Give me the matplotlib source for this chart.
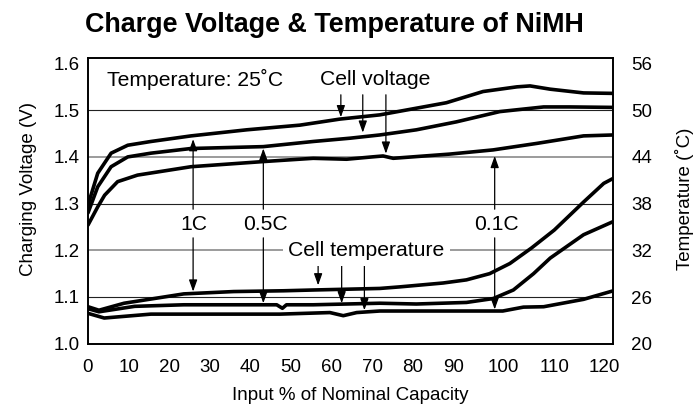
import numpy as np
import matplotlib
matplotlib.use("Agg")
import matplotlib.pyplot as plt

plt.rcParams['font.family'] = ['Liberation Sans', 'DejaVu Sans']

# ---------------- data ----------------
x_ticks = [0, 10, 20, 30, 40, 50, 60, 70, 80, 90, 100, 110, 120]
v_ticks = [1.0, 1.1, 1.2, 1.3, 1.4, 1.5, 1.6]
t_ticks = [20, 26, 32, 38, 44, 50, 56]

v1c_x = [0, 2.4, 5.7, 9.8, 15.5, 25.4, 39.1, 52.2, 62.1, 71.9, 88.3, 95.9, 102.6, 105.2, 109.2, 115.8, 121.7]
v1c_y = [1.297, 1.365, 1.408, 1.425, 1.433, 1.445, 1.458, 1.468, 1.481, 1.490, 1.516, 1.540, 1.550, 1.552, 1.545, 1.537, 1.536]

v05_x = [0, 2.4, 5.7, 9.8, 15.5, 25.4, 43.2, 55.5, 64.5, 71.9, 80.9, 90.6, 99.2, 107.9, 113.0, 121.7]
v05_y = [1.280, 1.336, 1.379, 1.400, 1.408, 1.418, 1.422, 1.433, 1.440, 1.447, 1.458, 1.475, 1.497, 1.507, 1.507, 1.506]

v01_x = [0, 2.4, 4.1, 7.3, 12.2, 25.4, 43.2, 55.5, 63.7, 70.0, 72.7, 75.2, 89.1, 97.9, 106.6, 115.8, 121.7]
v01_y = [1.254, 1.293, 1.318, 1.347, 1.361, 1.379, 1.390, 1.397, 1.395, 1.400, 1.402, 1.397, 1.406, 1.415, 1.429, 1.445, 1.447]

t1c_x = [0, 2.7, 8.9, 23.6, 35.9, 48.2, 55.5, 71.9, 76.8, 87.5, 92.6, 97.2, 101.2, 105.5, 110.0, 115.8, 119.8, 121.7]
t1c_y = [24.75, 24.3, 25.2, 26.4, 26.7, 26.8, 26.9, 27.1, 27.3, 27.8, 28.2, 29.0, 30.3, 32.3, 34.6, 38.2, 40.6, 41.25]

t05_x = [0, 2.7, 11.5, 23.6, 46.5, 47.9, 48.9, 55.5, 71.9, 80.9, 92.6, 97.9, 101.9, 105.9, 109.2, 112.5, 115.8, 121.7]
t05_y = [24.5, 24.1, 24.8, 25.0, 25.0, 24.55, 25.0, 25.0, 25.2, 25.1, 25.3, 25.8, 26.9, 29.0, 31.0, 32.5, 34.0, 35.7]

t01_x = [0, 4.0, 15.5, 47.3, 59.6, 62.9, 66.2, 71.9, 99.8, 103.9, 107.9, 115.8, 121.7]
t01_y = [23.9, 23.3, 23.8, 23.8, 24.0, 23.6, 24.0, 24.2, 24.2, 24.7, 24.75, 25.7, 26.8]

# ---------------- piecewise x scale (as drawn in the original) ----------------
K = 1.244
def fwd(x):
    x = np.asarray(x, dtype=float)
    return np.where(x <= 90, x, 90 + (x - 90) * K)
def inv(y):
    y = np.asarray(y, dtype=float)
    return np.where(y <= 90, y, 90 + (y - 90) / K)

fig = plt.figure(figsize=(6.95, 4.16), dpi=100)
ax = fig.add_axes([0.1266, 0.1738, 0.7559, 0.6868])
ax.set_xscale('function', functions=(fwd, inv))
ax.set_xlim(0, 121.7)
ax.set_ylim(1.0, 1.6118)

ax2 = ax.twinx()
ax2.set_ylim(20, 56.71)

# grid lines
for v in v_ticks[1:-1]:
    gray = abs(v - 1.4) < 1e-6 or abs(v - 1.2) < 1e-6
    ax.axhline(v, color='#8a8a8a' if gray else '#222222', lw=1.2 if gray else 0.8, zorder=1)

lw = 2.6
for xs, ys in [(v1c_x, v1c_y), (v05_x, v05_y), (v01_x, v01_y)]:
    ax.plot(xs, ys, color='black', lw=lw, zorder=3, solid_capstyle='round')
for xs, ys in [(t1c_x, t1c_y), (t05_x, t05_y), (t01_x, t01_y)]:
    ax2.plot(xs, ys, color='black', lw=lw, zorder=3, solid_capstyle='round')

ax.set_xticks(x_ticks)
ax.set_xticklabels([str(t) for t in x_ticks])
ax.set_yticks(v_ticks)
ax.set_yticklabels([f"{t:.1f}" for t in v_ticks])
ax2.set_yticks(t_ticks)
ax2.set_yticklabels([str(t) for t in t_ticks])

fs = 13.5
ax.tick_params(axis='x', length=0, pad=11, labelsize=fs)
ax.tick_params(axis='y', length=0, pad=6, labelsize=fs)
ax2.tick_params(axis='y', length=0, pad=13, labelsize=fs)

for a in (ax, ax2):
    for s in a.spines.values():
        s.set_linewidth(1.2)
        s.set_color('black')

ax.set_ylabel('Charging Voltage (V)', fontsize=fs)
ax.yaxis.set_label_coords(-0.097, 0.54)
ax2.set_ylabel('Temperature (˚C)', fontsize=fs)
ax2.yaxis.set_label_coords(1.117, 0.506)
ax.set_xlabel('Input % of Nominal Capacity', fontsize=fs)
ax.xaxis.set_label_coords(0.5, -0.15)

fig.text(334 / 695, 1 - 25 / 416, 'Charge Voltage & Temperature of NiMH',
         ha='center', va='center', fontsize=19.4, fontweight='bold')

# annotations
afs = 15.2
ax.text(26.4, 1.565, 'Temperature: 25˚C', ha='center', va='center', fontsize=afs)
ax.text(70.7, 1.565, 'Cell voltage', ha='center', va='center', fontsize=afs)

aprops = dict(arrowstyle='-|>,head_length=0.7,head_width=0.25', lw=0.9, color='black',
              shrinkA=0, shrinkB=0)

for xa, tip in [(62.3, 1.485), (67.7, 1.452), (73.4, 1.407)]:
    ax.annotate('', xy=(xa, tip), xytext=(xa, 1.533), arrowprops=aprops, zorder=4)

for lbl, xl, xa, tip_v, tip_t in [('1C', 26.0, 25.9, 1.438, 26.7),
                                  ('0.5C', 43.6, 43.2, 1.418, 25.2),
                                  ('0.1C', 98.5, 98.2, 1.402, 24.4)]:
    ax.text(xl, 1.256, lbl, ha='center', va='center', fontsize=afs)
    ax.annotate('', xy=(xa, tip_v), xytext=(xa, 1.288), arrowprops=aprops, zorder=4)
    ax2.annotate('', xy=(xa, tip_t), xytext=(xa, 33.6), arrowprops=aprops, zorder=4)

ax2.text(68.6, 31.95, 'Cell temperature', ha='center', va='center', fontsize=afs,
         bbox=dict(facecolor='white', edgecolor='none', pad=4), zorder=5)
for xa, tip in [(56.7, 27.5), (62.5, 25.2), (68.1, 24.3)]:
    ax2.annotate('', xy=(xa, tip), xytext=(xa, 30.1), arrowprops=aprops, zorder=4)

fig.savefig('out.png', dpi=100)
